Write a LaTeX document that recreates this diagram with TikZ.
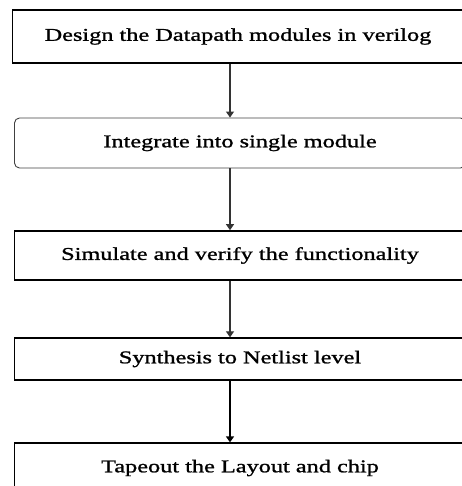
\documentclass[tikz,border=0pt]{standalone}
\usepackage{fontspec}
\setmainfont{Liberation Serif}[FakeStretch=1.35, FakeBold=1.2]
\usepackage{tikz}
\usetikzlibrary{arrows.meta,calc}

\tikzset{
    stepbox/.style={draw, line width=1.6pt, minimum width=451pt, inner sep=0pt, font=\fontsize{18}{20}\selectfont},
    roundbox/.style={stepbox, draw=black!75, line width=0.9pt, rounded corners=5pt},
    flow/.style={-{Triangle[length=6pt,width=8pt]}, draw=black!80, line width=1.1pt},
    bigflow/.style={flow, draw=black, line width=2.6pt}
}

\begin{document}
\begin{tikzpicture}[x=1pt, y=-1pt]
    \useasboundingbox (0,0) rectangle (461,486);

    % the steps of the flow
    \node[stepbox, minimum height=53pt] (design) at (238,36.5) {Design the Datapath modules in verilog};
    \node[roundbox, minimum height=50pt] (integ) at (240,143) {Integrate into single module};
    \node[stepbox, minimum height=49pt] (simul) at (240,255.5) {Simulate and verify the functionality};
    \node[stepbox, line width=1.3pt, minimum height=42pt] (synth) at (240,359) {Synthesis to Netlist level};
    \node[stepbox, line width=1.3pt, minimum height=50pt] (tape) at (240,468) {Tapeout the Layout and chip};

    % the arrows go down at this x
    \coordinate (ax) at (230,0);

    % draw the arrows
    \draw[flow] (design.south -| ax) -- (integ.north -| ax);
    \draw[flow] (integ.south -| ax) -- (simul.north -| ax);
    \draw[flow] (simul.south -| ax) -- (synth.north -| ax);
    \draw[bigflow] (synth.south -| ax) -- (tape.north -| ax);
\end{tikzpicture}
\end{document}
